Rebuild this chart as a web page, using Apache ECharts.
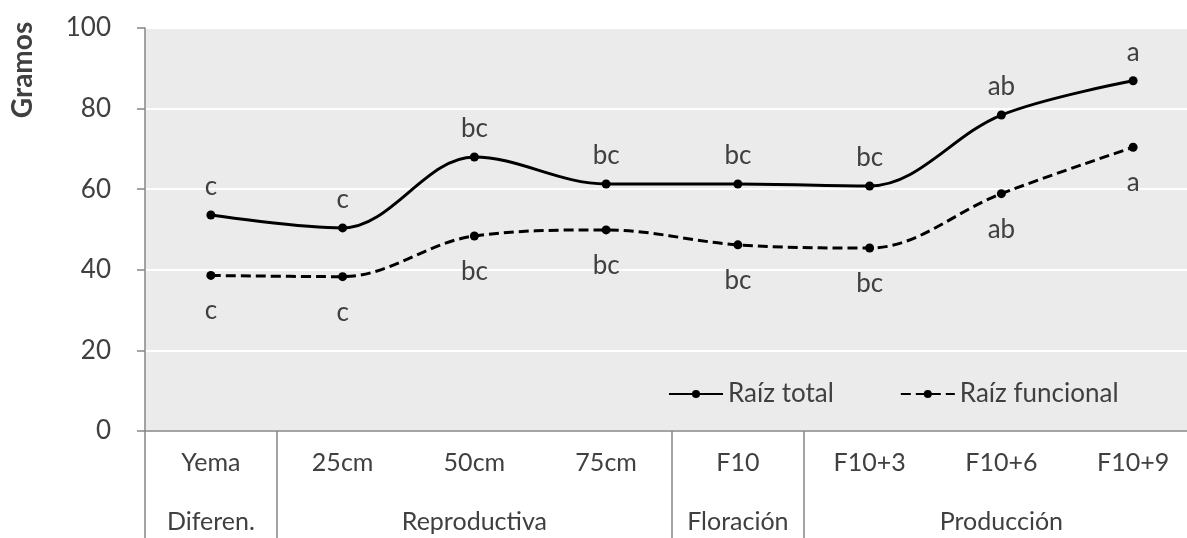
<!DOCTYPE html>
<html>
<head>
<meta charset="utf-8">
<script src="https://cdn.jsdelivr.net/npm/echarts@6/dist/echarts.min.js"></script>
<style>
html,body{margin:0;padding:0;background:#fff;}
#c{width:1187px;height:538px;}
</style>
</head>
<body>
<div id="c"></div>
<script>
var categories = ['Yema', '25cm', '50cm', '75cm', 'F10', 'F10+3', 'F10+6', 'F10+9'];
var groupNames = ['Diferen.', 'Reproductiva', 'Floración', 'Producción'];
var groupSizes = [1, 3, 1, 3];
var raizTotal = [53.6, 50.4, 68.0, 61.3, 61.3, 60.8, 78.4, 86.9];
var raizFuncional = [38.6, 38.3, 48.4, 49.9, 46.2, 45.4, 58.9, 70.4];
var totalLetters = ['c', 'c', 'bc', 'bc', 'bc', 'bc', 'ab', 'a'];
var funcLetters = ['c', 'c', 'bc', 'bc', 'bc', 'bc', 'ab', 'a'];
var yTicks = [0, 20, 40, 60, 80, 100];

// derive group label positions and boundaries
var groupLabelAt = {};
var boundaryAt = {};
var idx = 0;
groupSizes.forEach(function (s, g) {
  boundaryAt[idx] = true;
  groupLabelAt[idx + Math.floor((s - 1) / 2)] = groupNames[g];
  idx += s;
});

var FONT = 'Lato';
var TXT = '#404040';
var chart = echarts.init(document.getElementById('c'));
chart.setOption({
  animation: false,
  textStyle: { fontFamily: FONT },
  grid: {
    left: 145, top: 28, width: 1054, bottom: 107,
    outerBoundsMode: 'none', containLabel: false,
    show: true, backgroundColor: '#ebebeb', borderWidth: 0
  },
  graphic: [{
    type: 'text', x: 23, y: 70, rotation: Math.PI / 2,
    style: {
      text: 'Gramos', font: 'bold 28px Lato', fill: TXT,
      textAlign: 'center', textVerticalAlign: 'middle'
    }
  }],
  legend: {
    left: 663, top: 376, itemWidth: 54, itemHeight: 10, itemGap: 66,
    textStyle: { fontFamily: FONT, fontSize: 26, color: TXT },
    data: ['Raíz total', 'Raíz funcional']
  },
  xAxis: [{
    type: 'category', data: categories, boundaryGap: true,
    axisLine: { show: true, lineStyle: { color: '#868686', width: 1.5 } },
    axisTick: {
      show: true, length: 107, lineStyle: { color: '#868686', width: 1.5 },
      interval: function (i) { return !!boundaryAt[i]; }
    },
    axisLabel: { fontSize: 25, color: TXT, margin: 19, interval: 0 }
  }, {
    type: 'category', data: categories, boundaryGap: true, position: 'bottom',
    axisLine: { show: false }, axisTick: { show: false },
    axisLabel: {
      fontSize: 25, color: TXT, margin: 78, interval: 0,
      formatter: function (v, i) { return groupLabelAt[i] || ''; }
    }
  }],
  yAxis: {
    type: 'value', min: yTicks[0], max: yTicks[yTicks.length - 1], interval: 20,
    axisLine: { show: true, lineStyle: { color: '#868686', width: 1.5 } },
    axisTick: { show: true, length: 8, lineStyle: { color: '#868686', width: 1.5 } },
    axisLabel: { fontSize: 26, color: TXT, margin: 34 },
    splitLine: { show: true, lineStyle: { color: '#ffffff', width: 2 } }
  },
  series: [{
    name: 'Raíz total', type: 'line', data: raizTotal, smooth: 0.35,
    symbol: 'circle', symbolSize: 9,
    itemStyle: { color: '#000' },
    lineStyle: { color: '#000', width: 3 },
    label: {
      show: true, position: 'top', distance: 11, fontSize: 26, color: TXT,
      formatter: function (p) { return totalLetters[p.dataIndex]; }
    }
  }, {
    name: 'Raíz funcional', type: 'line', data: raizFuncional, smooth: 0.35,
    symbol: 'circle', symbolSize: 9,
    itemStyle: { color: '#000' },
    lineStyle: { color: '#000', width: 3, type: [10, 5] },
    label: {
      show: true, position: 'bottom', distance: 18, fontSize: 26, color: TXT,
      formatter: function (p) { return funcLetters[p.dataIndex]; }
    }
  }]
});
</script>
</body>
</html>
